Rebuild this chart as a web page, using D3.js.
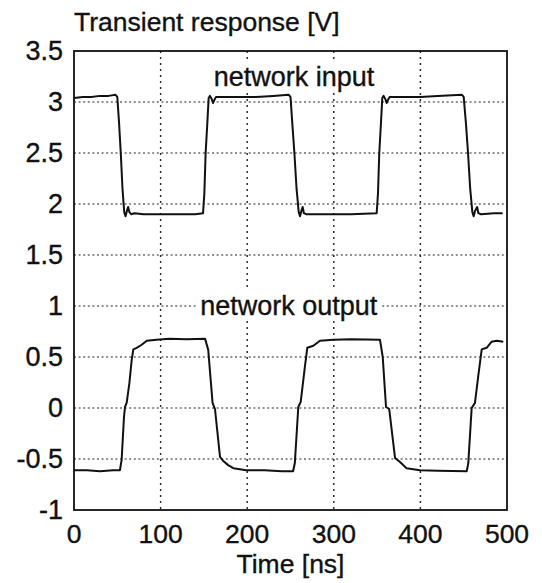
<!DOCTYPE html>
<html>
<head>
<meta charset="utf-8">
<script src="https://cdn.jsdelivr.net/npm/d3@7"></script>
<style>
  body { margin: 0; background: #fff; }
  text { font-family: "Liberation Sans", Arial, sans-serif; fill: #111; stroke: #111; stroke-width: 0.35px; }
</style>
</head>
<body>
<div id="container"></div>
<script>
const width = 542;
const height = 583;
const margin = { top: 51, right: 35, bottom: 73, left: 74 };

// time [ns] and voltage [V]
const inputSignal = [
  [0, 3.04], [10, 3.05], [20, 3.05], [30, 3.06], [40, 3.06], [48, 3.07],
  [50, 3.05], [52, 2.8], [54, 2.5], [56, 2.15], [58, 1.92], [59.5, 1.88],
  [61, 1.93], [62.5, 1.97], [64, 1.92], [66, 1.9], [70, 1.91], [80, 1.9],
  [100, 1.9], [120, 1.9], [140, 1.9], [149, 1.91],
  [150.5, 2.1], [152, 2.5], [154, 2.8], [155.5, 3.04], [157, 3.06],
  [159, 3.03], [160.5, 2.99], [162, 3.02], [164, 3.05], [170, 3.05],
  [190, 3.05], [210, 3.05], [230, 3.06], [248, 3.07],
  [250, 3.05], [252, 2.8], [254.5, 2.5], [257, 2.15], [259.5, 1.92],
  [261, 1.88], [262.5, 1.93], [264, 1.97], [265.5, 1.91], [268, 1.9],
  [290, 1.9], [320, 1.9], [349.5, 1.91],
  [351, 2.1], [352.5, 2.5], [354.5, 2.8], [356, 3.04], [357.5, 3.06],
  [359.5, 3.03], [361, 2.99], [362.5, 3.02], [364.5, 3.05], [380, 3.05],
  [400, 3.05], [420, 3.06], [448, 3.07],
  [450, 3.05], [452.5, 2.8], [455, 2.5], [457.5, 2.15], [460, 1.92],
  [461.5, 1.88], [463, 1.93], [465.5, 1.97], [467, 1.91], [470, 1.9],
  [485, 1.91], [495, 1.91]
];

const outputSignal = [
  [0, -0.61], [15, -0.61], [30, -0.62], [45, -0.61], [53, -0.61],
  [55, -0.51], [57.7, -0.09], [58.9, 0.01], [60.8, 0.05], [63.9, 0.24],
  [66.6, 0.47], [68.5, 0.575], [72.4, 0.59], [78.2, 0.62], [84, 0.66],
  [95.5, 0.67], [110, 0.68], [130, 0.675], [151.3, 0.68],
  [155, 0.57], [160, 0.05], [162.8, -0.01], [168.6, -0.48], [172.4, -0.52],
  [178, -0.56], [184, -0.59], [199, -0.61], [220, -0.61], [240, -0.62],
  [253, -0.62],
  [255, -0.54], [259, 0.01], [261.8, 0.06], [266.7, 0.41], [269.4, 0.59],
  [276.4, 0.61], [284, 0.66], [299.4, 0.67], [320, 0.675], [353.3, 0.67],
  [356.5, 0.5], [360.3, 0.01], [364, -0.01], [370.7, -0.49], [376.4, -0.53],
  [384, -0.59], [399.5, -0.61], [420, -0.615], [453.5, -0.62],
  [455.3, -0.54], [459.2, 0.0], [463, 0.05], [466.9, 0.32], [470.8, 0.575],
  [476.5, 0.59], [482.3, 0.65], [488, 0.66], [495.7, 0.65]
];

const xTicks = [0, 100, 200, 300, 400, 500];
const yTicks = [-1, -0.5, 0, 0.5, 1, 1.5, 2, 2.5, 3, 3.5];

const labels = [
  { text: "network input", t: 254, v: 3.157 },
  { text: "network output", t: 248, v: 0.912 }
];

const svg = d3.select("#container")
  .append("svg")
  .attr("width", width)
  .attr("height", height);

const xScale = d3.scaleLinear()
  .domain([0, 500])
  .range([margin.left, width - margin.right]);

const yScale = d3.scaleLinear()
  .domain([-1, 3.5])
  .range([height - margin.bottom, margin.top]);

// dotted grid
svg.append("g")
  .selectAll("line")
  .data(yTicks.filter(d => d > -1 && d < 3.5))
  .join("line")
  .attr("x1", xScale(0))
  .attr("x2", xScale(500))
  .attr("y1", d => yScale(d))
  .attr("y2", d => yScale(d))
  .attr("stroke", "#222")
  .attr("stroke-width", 1.2)
  .attr("stroke-dasharray", "2,2.6");

svg.append("g")
  .selectAll("line")
  .data(xTicks.filter(d => d > 0 && d < 500))
  .join("line")
  .attr("x1", d => xScale(d))
  .attr("x2", d => xScale(d))
  .attr("y1", yScale(3.5))
  .attr("y2", yScale(-1))
  .attr("stroke", "#222")
  .attr("stroke-width", 1.4)
  .attr("stroke-dasharray", "2,4");

// annotations with white boxes behind
const ann = svg.append("g")
  .selectAll("g")
  .data(labels)
  .join("g");

ann.append("text")
  .attr("x", d => xScale(d.t))
  .attr("y", d => yScale(d.v))
  .attr("text-anchor", "middle")
  .style("font-size", "27px")
  .text(d => d.text)
  .each(function() {
    const b = this.getBBox();
    d3.select(this.parentNode).insert("rect", "text")
      .attr("x", b.x - 4)
      .attr("y", b.y)
      .attr("width", b.width + 8)
      .attr("height", b.height)
      .attr("fill", "#fff");
  });

// curves
const line = d3.line()
  .x(d => xScale(d[0]))
  .y(d => yScale(d[1]));

[inputSignal, outputSignal].forEach(series => {
  svg.append("path")
    .datum(series)
    .attr("fill", "none")
    .attr("stroke", "#111")
    .attr("stroke-width", 2)
    .attr("stroke-linejoin", "round")
    .attr("d", line);
});

// frame
svg.append("rect")
  .attr("x", xScale(0))
  .attr("y", yScale(3.5))
  .attr("width", xScale(500) - xScale(0))
  .attr("height", yScale(-1) - yScale(3.5))
  .attr("fill", "none")
  .attr("stroke", "#111")
  .attr("stroke-width", 1.8);

// axes labels
svg.append("g")
  .selectAll("text")
  .data(xTicks)
  .join("text")
  .attr("x", d => xScale(d))
  .attr("y", yScale(-1) + 33)
  .attr("text-anchor", "middle")
  .style("font-size", "26.5px")
  .text(d => d);

svg.append("g")
  .selectAll("text")
  .data(yTicks)
  .join("text")
  .attr("x", xScale(0) - 11)
  .attr("y", d => yScale(d))
  .attr("dy", "0.35em")
  .attr("text-anchor", "end")
  .style("font-size", "27px")
  .text(d => d);

svg.append("text")
  .attr("x", xScale(0))
  .attr("y", 31)
  .style("font-size", "26.5px")
  .text("Transient response [V]");

svg.append("text")
  .attr("x", (xScale(0) + xScale(500)) / 2)
  .attr("y", 573)
  .attr("text-anchor", "middle")
  .style("font-size", "26.5px")
  .text("Time [ns]");
</script>
</body>
</html>
